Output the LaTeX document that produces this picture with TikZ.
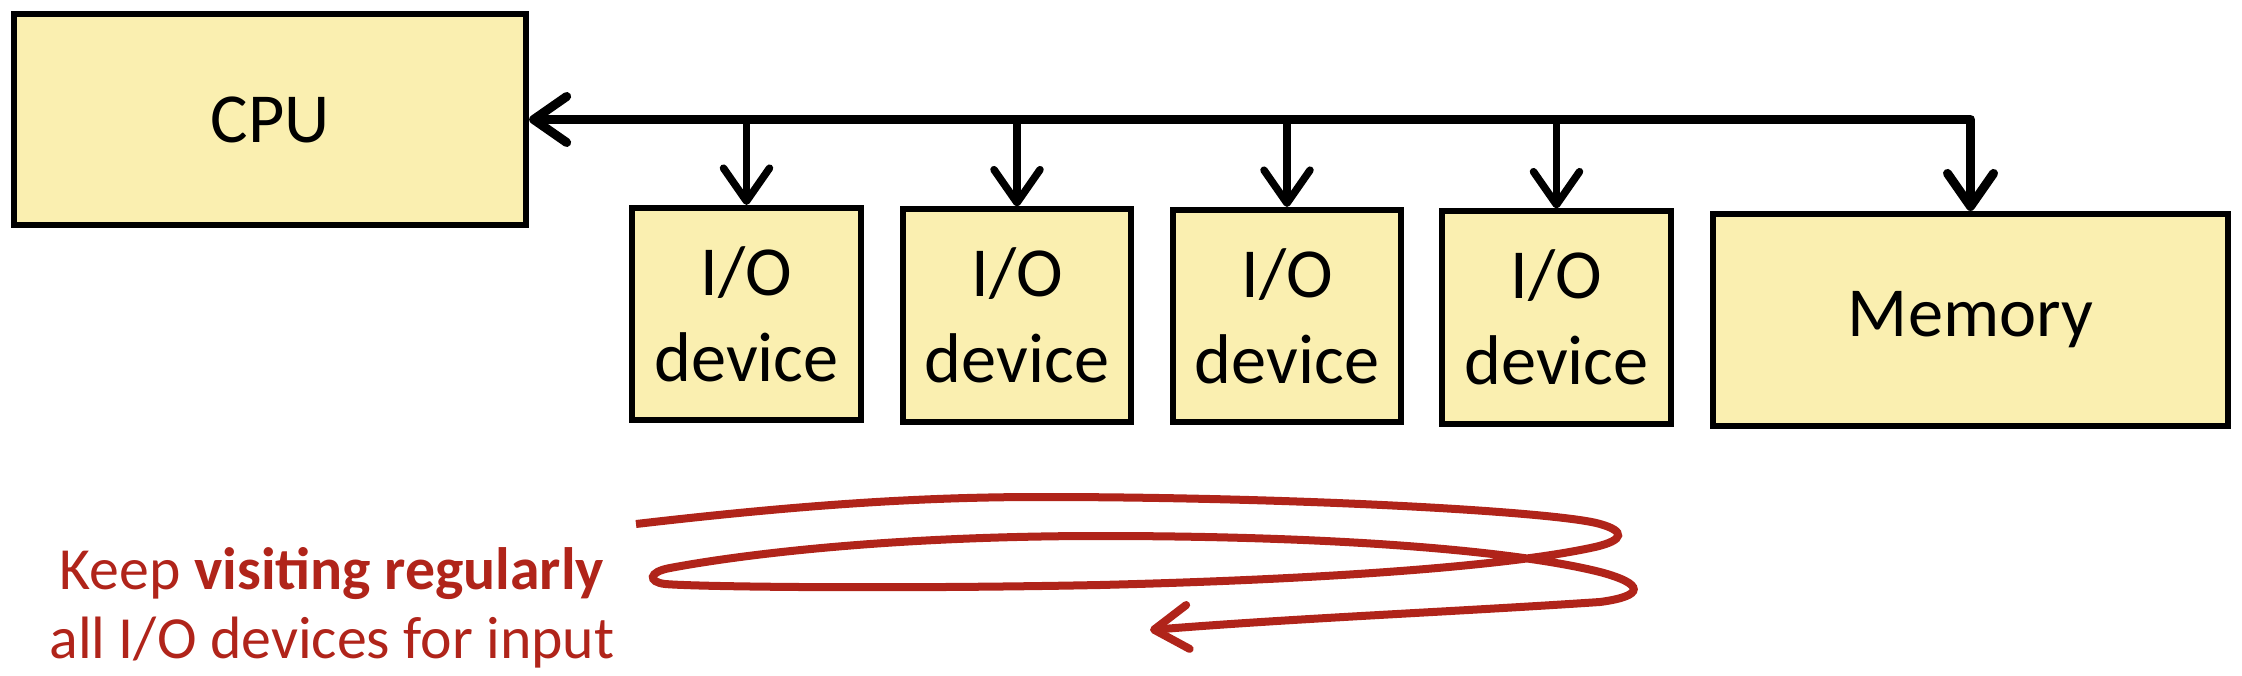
\documentclass[tikz,border=0pt]{standalone}
\usepackage{fontspec}
\setmainfont{Carlito}
\usetikzlibrary{arrows.meta}
\definecolor{boxfill}{HTML}{FAEFB0}
\definecolor{swirlred}{HTML}{B0241A}
\begin{document}
\begin{tikzpicture}[x=0.01cm,y=-0.01cm,
  blk/.style={draw=black, fill=boxfill, line width=0.06cm, inner sep=0pt,
    font=\fontsize{20}{24.4}\selectfont, align=center},
  iobox/.style={blk, minimum width=2.28cm, minimum height=2.12cm},
  busline/.style={line width=0.09cm, line join=round, draw=black},
  barb/.tip={Straight Barb[length=0.33cm, width=0.46cm, round]},
  drop/.style={line width=0.075cm, draw=black, -barb},
  swirlline/.style={line width=0.08cm, draw=swirlred},
  notetext/.style={font=\fontsize{17}{19.6}\selectfont, text=swirlred, align=center, inner sep=0pt}]
\useasboundingbox (0,0) rectangle (2242,676);

\node[blk, minimum width=5.12cm, minimum height=2.11cm] (cpu) at (270,119.5) {CPU};
\node[iobox] (io1) at (746.5,314) {I/O\\device};
\node[iobox] (io2) at (1017,315.5) {I/O\\device};
\node[iobox] (io3) at (1287,316) {I/O\\device};
\node[iobox] (io4) at (1556.5,317.5) {I/O\\device};
\node[blk, minimum width=5.15cm, minimum height=2.12cm] (mem) at (1970.5,320) {Memory};

\draw[busline, barb-barb] (cpu.east) -- (mem.north |- cpu.east) -- (mem.north);
\foreach \n in {io1,io2,io3,io4}
  \draw[drop] (\n.north |- cpu.east) -- (\n.north);

\draw[swirlline, -{Straight Barb[length=0.34cm, width=0.44cm, round]}]
  (636,524) .. controls (800,505) and (920,497) .. (1040,497)
  .. controls (1300,497) and (1560,512) .. (1600,524)
  .. controls (1625,531) and (1625,540) .. (1595,547)
  .. controls (1500,568) and (1300,580) .. (1100,585)
  .. controls (900,589) and (700,587) .. (665,584)
  .. controls (648,582) and (648,572) .. (670,568)
  .. controls (750,553) and (900,536) .. (1100,536)
  .. controls (1350,536) and (1520,552) .. (1600,572)
  .. controls (1645,584) and (1645,596) .. (1600,602)
  .. controls (1450,612) and (1300,618) .. (1150,630);

\node[notetext, anchor=base] (note) at (332,658) {Keep \textbf{visiting regularly}\\all I/O devices for input};
\end{tikzpicture}
\end{document}
